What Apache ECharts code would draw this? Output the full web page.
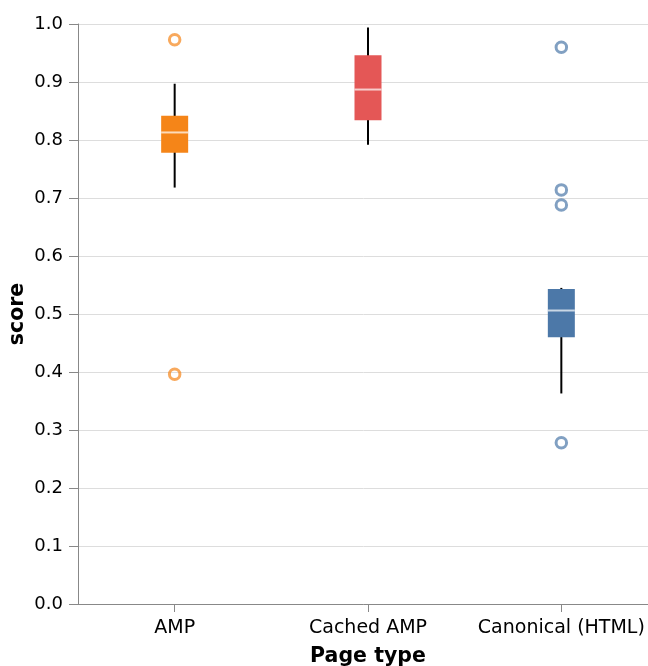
<!DOCTYPE html>
<html>
<head>
<meta charset="utf-8">
<script src="https://cdn.jsdelivr.net/npm/echarts@6/dist/echarts.min.js"></script>
<style>html,body{margin:0;padding:0;background:#fff}#c{width:648px;height:666px}</style>
</head>
<body>
<div id="c"></div>
<script>
var categories = ['AMP', 'Cached AMP', 'Canonical (HTML)'];
var whiskerLow  = [0.718, 0.792, 0.363];
var q1          = [0.778, 0.834, 0.460];
var median      = [0.813, 0.887, 0.506];
var q3          = [0.842, 0.946, 0.543];
var whiskerHigh = [0.897, 0.994, 0.545];
var outliersAMP = [0.973, 0.396];
var outliersCached = [];
var outliersCanonical = [0.960, 0.714, 0.688, 0.278];
var colors = ['#f58518', '#e45756', '#4c78a8'];

var boxData = categories.map(function (c, i) {
  return [i, whiskerLow[i], q1[i], median[i], q3[i], whiskerHigh[i]];
});
var outlierLists = [outliersAMP, outliersCached, outliersCanonical];
var outlierSeries = outlierLists.map(function (list, i) {
  return {
    type: 'scatter',
    symbol: 'circle',
    symbolSize: 10.5,
    data: list.map(function (v) { return [categories[i], v]; }),
    itemStyle: { color: 'rgba(255,255,255,0)', borderColor: colors[i], borderWidth: 3, opacity: 0.7 },
    z: 3,
    silent: true
  };
});

var FONT = 'DejaVu Sans';
var chart = echarts.init(document.getElementById('c'), null, { renderer: 'canvas' });
chart.setOption({
  animation: false,
  grid: { left: 78, top: 24, width: 580, height: 580, containLabel: false, outerBoundsMode: 'none' },
  xAxis: {
    type: 'category',
    data: categories,
    boundaryGap: true,
    name: 'Page type',
    nameLocation: 'middle',
    nameGap: 42,
    nameMoveOverlap: false,
    nameTextStyle: { fontFamily: FONT, fontSize: 20.5, fontWeight: 'bold', color: '#000' },
    axisLine: { show: true, lineStyle: { color: '#888', width: 1 } },
    axisTick: { show: true, alignWithLabel: true, length: 8, lineStyle: { color: '#888' } },
    axisLabel: { fontFamily: FONT, fontSize: 19, color: '#000', margin: 15, interval: 0, hideOverlap: false },
    splitLine: { show: false }
  },
  yAxis: {
    type: 'value',
    min: 0,
    max: 1,
    interval: 0.1,
    name: 'score',
    nameLocation: 'middle',
    nameGap: 50,
    nameMoveOverlap: false,
    nameTextStyle: { fontFamily: FONT, fontSize: 20.5, fontWeight: 'bold', color: '#000' },
    axisLine: { show: true, lineStyle: { color: '#888', width: 1 } },
    axisTick: { show: true, length: 9, lineStyle: { color: '#888' } },
    axisLabel: { fontFamily: FONT, fontSize: 18, color: '#000', margin: 15,
      formatter: function (v) { return v.toFixed(1); } },
    splitLine: { show: true, lineStyle: { color: '#ddd', width: 1 } }
  },
  series: [{
    type: 'custom',
    data: boxData,
    encode: { x: 0, y: [1, 2, 3, 4, 5] },
    z: 2,
    renderItem: function (params, api) {
      var idx = api.value(0);
      var pLow = api.coord([idx, api.value(1)]);
      var pQ1 = api.coord([idx, api.value(2)]);
      var pMed = api.coord([idx, api.value(3)]);
      var pQ3 = api.coord([idx, api.value(4)]);
      var pHigh = api.coord([idx, api.value(5)]);
      var x = pLow[0];
      var w = 27;
      return {
        type: 'group',
        children: [
          { type: 'line', shape: { x1: x, y1: pLow[1], x2: x, y2: pHigh[1] },
            style: { stroke: '#000', lineWidth: 2 } },
          { type: 'rect', shape: { x: x - w / 2, y: pQ3[1], width: w, height: pQ1[1] - pQ3[1] },
            style: { fill: colors[idx] } },
          { type: 'line', shape: { x1: x - w / 2, y1: pMed[1], x2: x + w / 2, y2: pMed[1] },
            style: { stroke: 'rgba(255,255,255,0.7)', lineWidth: 2 } }
        ]
      };
    }
  }].concat(outlierSeries)
});
</script>
</body>
</html>
